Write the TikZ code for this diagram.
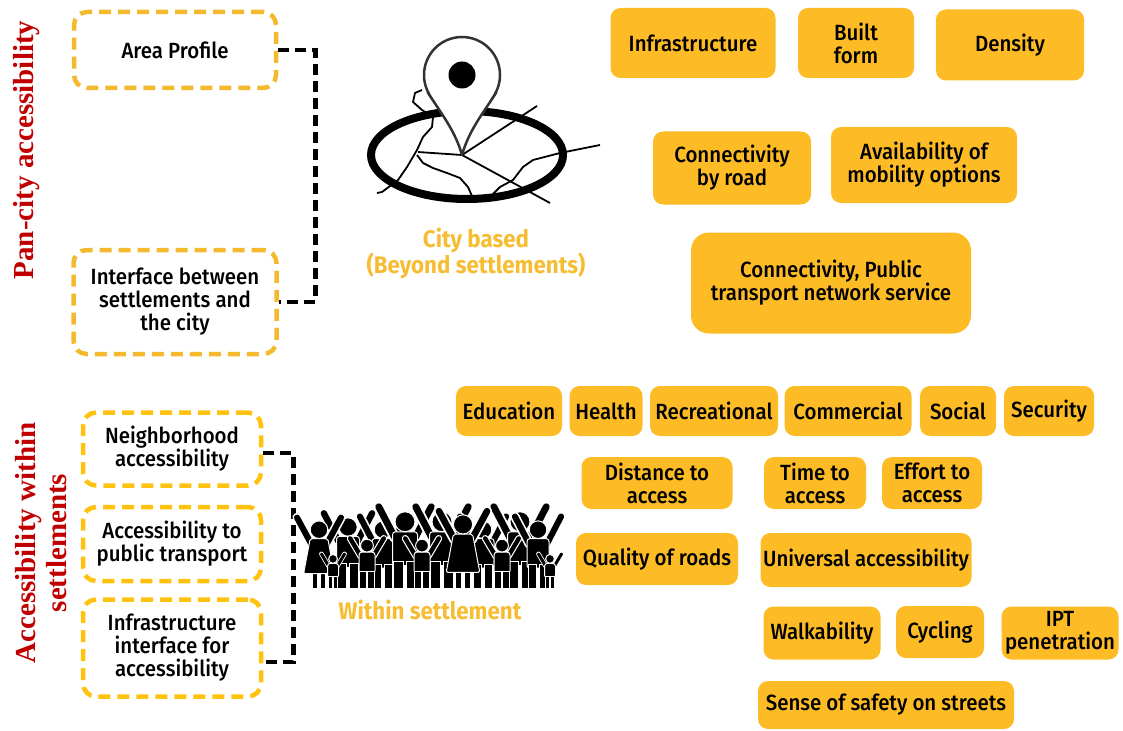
\documentclass[tikz,border=0pt]{standalone}
\usepackage{fontspec}
\setmainfont{Fira Sans}[FakeStretch=0.93]
\newfontfamily\mediumfont{Fira Sans Medium}[FakeStretch=0.93]
\newfontfamily\sidefont{Liberation Serif}
\definecolor{boxorange}{RGB}{253,188,38}
\definecolor{dashyellow}{RGB}{244,186,46}
\definecolor{dashgold}{RGB}{255,194,14}
\definecolor{labelorange}{RGB}{246,189,50}
\definecolor{sidered}{RGB}{192,0,0}

\begin{document}
\begin{tikzpicture}[x=1pt, y=-1pt,
    item/.style={fill=boxorange, rounded corners=10pt, align=center, inner sep=2pt,
        font=\mediumfont\fontsize{22}{23}\selectfont},
    topic/.style={draw=dashyellow, fill=white, line width=4.5pt, dash pattern=on 12pt off 7pt,
        rounded corners=13pt, align=center, font=\mediumfont\fontsize{22}{23}\selectfont},
    bracket/.style={draw=black, line width=4.5pt, dash pattern=on 11pt off 6pt},
    caption/.style={text=labelorange, align=center, font=\bfseries\fontsize{24}{26}\selectfont},
    side/.style={text=sidered, rotate=90, align=center, font=\sidefont\bfseries\fontsize{29}{31}\selectfont},
    road/.style={line width=1.8pt, line join=round}]
    \useasboundingbox (0,0) rectangle (1123,730);

    % Side headings
    \node[side] (pancity) at (27,150) {Pan-city accessibility};
    \node[side] (within) at (41,543) {Accessibility within\\settlements};

    % Pan-city topics
    \node[topic, minimum width=202pt, minimum height=76pt] (area) at (175,50) {Area Profile};
    \node[topic, minimum width=203pt, minimum height=104pt] (iface) at (175,302) {Interface between\\settlements and\\the city};
    \draw[bracket] (area.east) -- ++(37,0) |- (iface.east);

    % Within-settlement topics
    \node[topic, draw=dashgold, minimum width=178pt, minimum height=73pt] (nbhd) at (172,449) {Neighborhood\\accessibility};
    \node[topic, draw=dashgold, minimum width=178pt, minimum height=74pt] (ptacc) at (172,544) {Accessibility to\\public transport};
    \node[topic, draw=dashgold, minimum width=178pt, minimum height=97pt] (infacc) at (172,648) {Infrastructure\\interface for\\accessibility};
    \draw[bracket] ([yshift=-4pt]nbhd.east) -- ++(30,0) |- ([yshift=-14pt]infacc.east);

    % City map with pin
    \draw[road] (462,155) -- (537,106);
    \draw[road] (462,155) -- (550,203);
    \draw[road] (418,152) -- (462,155);
    \draw[road] (422,90) -- (415,93) -- (413,102) -- (422,110) -- (433,117) -- (432,127) -- (423,137)
        -- (417,150) -- (407,167) -- (398,180) -- (382,192) -- (377,193);
    \draw[road] (417,155) -- (423,163) -- (433,168) -- (447,173) -- (460,178) -- (468,187) -- (472,196);
    \draw[road] (600,145) -- (560,153) -- (533,160) -- (523,167) -- (513,180) -- (500,187) -- (493,194);
    \draw[line width=8pt] (467,155) ellipse [x radius=96, y radius=44];
    \filldraw[fill=white, draw=black!80, line width=2.5pt] (462,75) circle (38);
    \fill[white] (462,151) -- (430,93) -- (494,93) -- cycle;
    \draw[black!80, line width=2.5pt, line join=round] (427.5,92) .. controls (440,112) and (455,130) .. (462,155)
        .. controls (469,130) and (484,112) .. (496.5,92);
    \fill[black] (462,75) circle (13.5);
    \node[caption] (citybased) at (476,253) {City based\\(Beyond settlements)};

    % Crowd of people: adults, women in dresses, then children in front
    \foreach \px/\ps in {348/1.15, 383/1.1, 405/1.25, 442/1.25, 483/1.1, 520/1.25, 538/1.1}
    {
        \begin{scope}[shift={(\px,588)}, scale=\ps]
            \draw[white, line width=\ps*8.5pt, line cap=round] (-8,-40) -- (-21,-65) (8,-40) -- (21,-65);
            \draw[black, line width=\ps*5.5pt, line cap=round] (-8,-40) -- (-21,-65) (8,-40) -- (21,-65);
            \filldraw[fill=black, draw=white, line width=1pt, rounded corners=3pt] (-10,-45) rectangle (10,-18);
            \filldraw[fill=black, draw=white, line width=1pt] (-9,-21) rectangle (-1,0) (1,-21) rectangle (9,0);
            \filldraw[fill=black, draw=white, line width=1pt] (0,-53) circle (8);
        \end{scope}
    }
    \foreach \px/\ps in {319/1.1, 463/1.2}
    {
        \begin{scope}[shift={(\px,588)}, scale=\ps]
            \draw[white, line width=\ps*8.5pt, line cap=round] (-7,-40) -- (-20,-64) (7,-40) -- (20,-64);
            \draw[black, line width=\ps*5.5pt, line cap=round] (-7,-40) -- (-20,-64) (7,-40) -- (20,-64);
            \filldraw[fill=black, draw=white, line width=1pt] (-6,-15) rectangle (-1,0) (1,-15) rectangle (6,0);
            \filldraw[fill=black, draw=white, line width=1pt, rounded corners=2pt] (-8,-45) -- (8,-45) -- (14,-13) -- (-14,-13) -- cycle;
            \filldraw[fill=black, draw=white, line width=1pt] (0,-53) circle (8);
        \end{scope}
    }
    \foreach \px/\ps in {333/0.55, 367/0.8, 422/0.8, 502/0.8, 550/0.55}
    {
        \begin{scope}[shift={(\px,588)}, scale=\ps]
            \draw[white, line width=\ps*8.5pt, line cap=round] (-8,-40) -- (-21,-62) (8,-40) -- (21,-62);
            \draw[black, line width=\ps*5.5pt, line cap=round] (-8,-40) -- (-21,-62) (8,-40) -- (21,-62);
            \filldraw[fill=black, draw=white, line width=1pt, rounded corners=3pt] (-10,-45) rectangle (10,-18);
            \filldraw[fill=black, draw=white, line width=1pt] (-9,-21) rectangle (-1,0) (1,-21) rectangle (9,0);
            \filldraw[fill=black, draw=white, line width=1pt] (0,-53) circle (8);
        \end{scope}
    }
    \node[caption] (withinlabel) at (430,610) {Within settlement};

    % City based factors
    \node[item, minimum width=165pt, minimum height=70pt] (infra) at (693,43) {Infrastructure};
    \node[item, minimum width=116pt, minimum height=70pt] (built) at (856,43) {Built\\form};
    \node[item, minimum width=148pt, minimum height=71pt] (density) at (1010,45) {Density};
    \node[item, minimum width=158pt, minimum height=73pt] (conroad) at (732,168) {Connectivity\\by road};
    \node[item, minimum width=186pt, minimum height=76pt] (avail) at (924,165) {Availability of\\mobility options};
    \node[item, rounded corners=18pt, minimum width=280pt, minimum height=101pt] (ptnet) at (831,283) {Connectivity, Public\\transport network service};

    % Within settlement factors
    \node[item, minimum width=106pt, minimum height=50pt] (edu) at (509,411) {Education};
    \node[item, minimum width=73pt, minimum height=50pt] (health) at (606,411) {Health};
    \node[item, minimum width=128pt, minimum height=50pt] (recr) at (714,411) {Recreational};
    \node[item, minimum width=127pt, minimum height=50pt] (comm) at (848,411) {Commercial};
    \node[item, minimum width=76pt, minimum height=50pt] (social) at (958,411) {Social};
    \node[item, minimum width=90pt, minimum height=50pt] (security) at (1049,411) {Security};
    \node[item, minimum width=151pt, minimum height=52pt] (dist) at (657,483) {Distance to\\access};
    \node[item, minimum width=102pt, minimum height=52pt] (time) at (815,483) {Time to\\access};
    \node[item, minimum width=100pt, minimum height=52pt] (effort) at (932,483) {Effort to\\access};
    \node[item, minimum width=162pt, minimum height=52pt] (quality) at (657,559) {Quality of roads};
    \node[item, minimum width=211pt, minimum height=54pt] (univ) at (866,560) {Universal accessibility};
    \node[item, minimum width=117pt, minimum height=53pt] (walk) at (822,633) {Walkability};
    \node[item, minimum width=88pt, minimum height=52pt] (cycling) at (940,632) {Cycling};
    \node[item, minimum width=117pt, minimum height=53pt] (ipt) at (1060,633) {IPT\\penetration};
    \node[item, minimum width=256pt, minimum height=48pt] (safety) at (886,705) {Sense of safety on streets};
\end{tikzpicture}
\end{document}
